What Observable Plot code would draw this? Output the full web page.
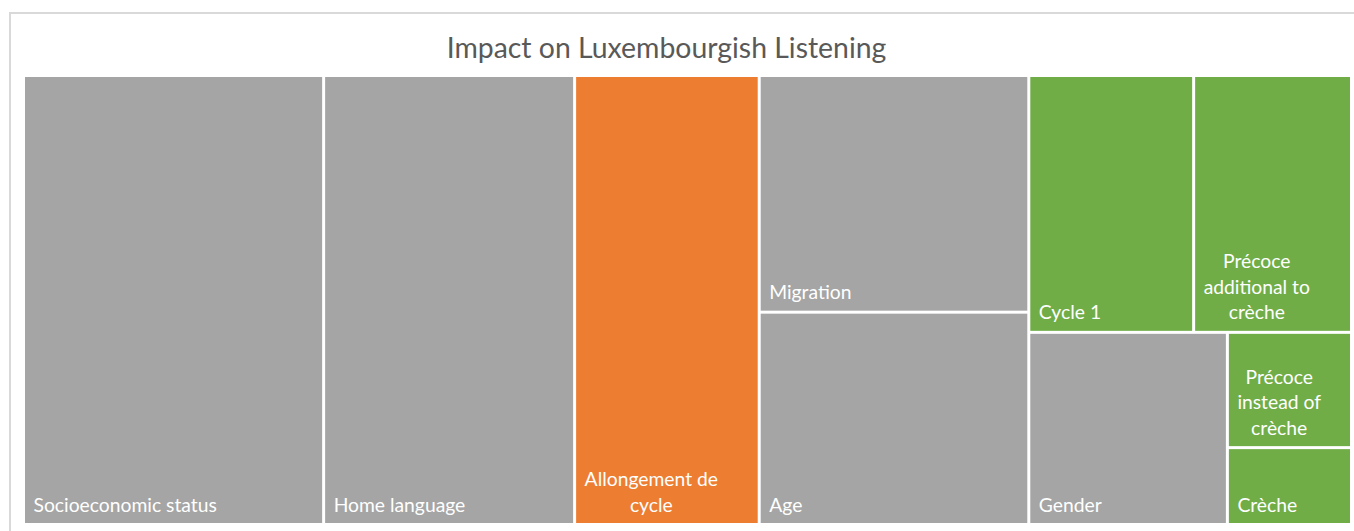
<!DOCTYPE html>
<html>
<head>
<meta charset="utf-8">
<script src="https://cdn.jsdelivr.net/npm/d3@7"></script>
<script src="https://cdn.jsdelivr.net/npm/@observablehq/plot@0.6"></script>
<style>
  html, body { margin: 0; padding: 0; background: #fff; overflow: hidden; width: 1354px; height: 531px; }
  #frame { position: absolute; left: 9px; top: 12px; width: 1400px; height: 600px; border: 2px solid #d9d9d9; box-sizing: border-box; }
  #title { position: absolute; left: 0; width: 1333px; top: 30px; text-align: center; font-family: Lato, sans-serif; font-size: 28.4px; line-height: 1.2; color: #595959; white-space: nowrap; }
  #chart { position: absolute; left: 0; top: 74px; }
</style>
</head>
<body>
<div id="frame"></div>
<div id="title">Impact on Luxembourgish Listening</div>
<div id="chart"></div>
<script>
// ---- data (values are relative tile areas) ----
const categories = ["Socioeconomic status", "Home language", "Allongement de cycle", "Migration", "Age",
                    "Cycle 1", "Précoce additional to crèche", "Gender", "Précoce instead of crèche", "Crèche"];
const labels = ["Socioeconomic status", "Home language", "Allongement de\ncycle", "Migration", "Age",
                "Cycle 1", "Précoce\nadditional to\ncrèche", "Gender", "Précoce\ninstead of\ncrèche", "Crèche"];
const values = [22.6, 18.9, 13.9, 10.7, 9.6, 7.1, 6.8, 6.4, 2.4, 1.6];
const colorGroups = ["background", "background", "focus", "background", "background",
                     "early", "early", "background", "early", "early"];
// nesting of the tiles (as Excel arranged them): columns / rows alternate by depth
const tilePaths = ["1", "2", "3", "4/1", "4/2", "5/1/1", "5/1/2", "5/2/1", "5/2/2/1", "5/2/2/2"];
const groupDomain = ["background", "focus", "early"];
const groupRange = ["#A5A5A5", "#ED7D31", "#70AD47"];

// ---- hierarchy ----
const tree = {key: "root", children: []};
categories.forEach((name, i) => {
  const parts = tilePaths[i].split("/");
  let node = tree;
  parts.slice(0, -1).forEach(p => {
    let child = node.children.find(c => c.key === p && c.children);
    if (!child) { child = {key: p, children: []}; node.children.push(child); }
    node = child;
  });
  node.children.push({key: parts[parts.length - 1], name, label: labels[i], value: values[i], group: colorGroups[i]});
});
const root = d3.hierarchy(tree).sum(d => d.children ? 0 : d.value);
d3.treemap().tile(d3.treemapSliceDice).size([1, 1])(root);

const X0 = 23.5, X1 = 1351.5, Y0 = 1.5, Y1 = 450.5;
const FS = 19.3;
const ctx = document.createElement("canvas").getContext("2d");
ctx.font = `${FS}px Lato`;
const leaves = root.leaves().map(l => {
  const lines = l.data.label.split("\n");
  const w = d3.max(lines, s => ctx.measureText(s).width);
  return {...l.data, x0: l.x0, x1: l.x1, y0: l.y0, y1: l.y1,
          lx: l.x0 + (1.5 + 8 + w / 2) / (X1 - X0)};
});

const chart = Plot.plot({
  width: 1354,
  height: 457,
  margin: 0,
  x: {domain: [0, 1], range: [X0, X1], axis: null},
  y: {domain: [0, 1], range: [Y0, Y1], axis: null},
  color: {domain: groupDomain, range: groupRange},
  style: {fontFamily: "Lato, sans-serif", fontSize: FS + "px", background: "transparent", overflow: "visible"},
  marks: [
    Plot.rect(leaves, {x1: "x0", x2: "x1", y1: "y0", y2: "y1", fill: "group", inset: 1.5}),
    Plot.text(leaves, {x: "lx", y: "y1", text: "label", fill: "white", fontSize: FS,
                       lineHeight: 1.32, textAnchor: "middle", lineAnchor: "bottom", dy: -13.5})
  ]
});
document.getElementById("chart").appendChild(chart);
</script>
</body>
</html>
